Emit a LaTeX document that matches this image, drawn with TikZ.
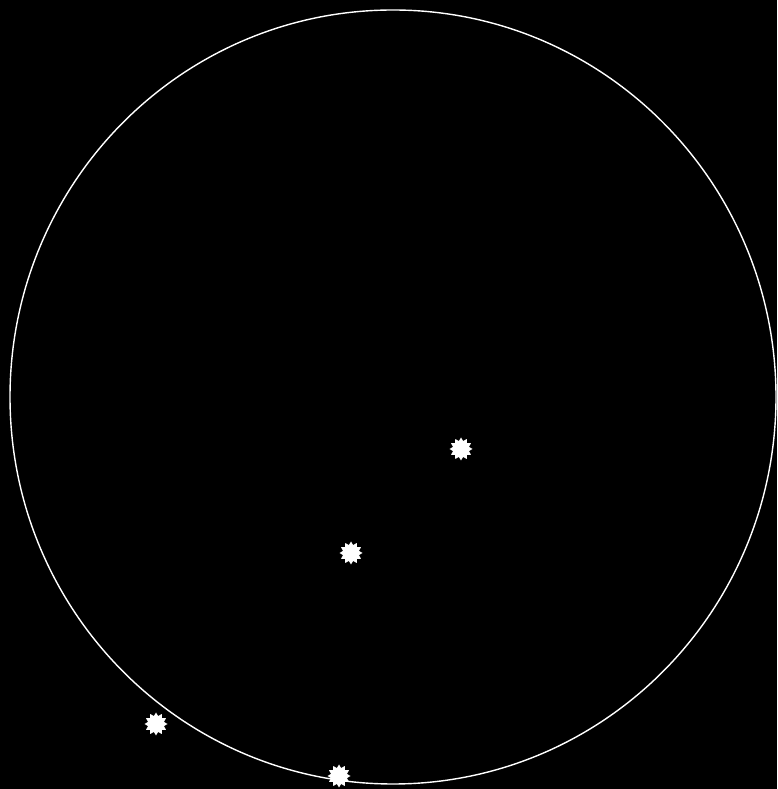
\documentclass[tikz,border=0pt]{standalone}
\usetikzlibrary{shapes.geometric}
\begin{document}
\begin{tikzpicture}[x=1pt,y=1pt,
  starpt/.style={star, star points=12, star point ratio=1.4, minimum size=23pt, inner sep=0pt, fill=white, draw=none}]
\fill[black] (0,0) rectangle (777,789);
\useasboundingbox (0,0) rectangle (777,789);
\draw[white, line width=1.4pt] (393,392) ellipse [x radius=383, y radius=387];
\node[starpt] (s1) at (461,340) {};
\node[starpt] (s2) at (351,236) {};
\node[starpt] (s3) at (156,65) {};
\node[starpt] (s4) at (339,13) {};
\end{tikzpicture}
\end{document}
